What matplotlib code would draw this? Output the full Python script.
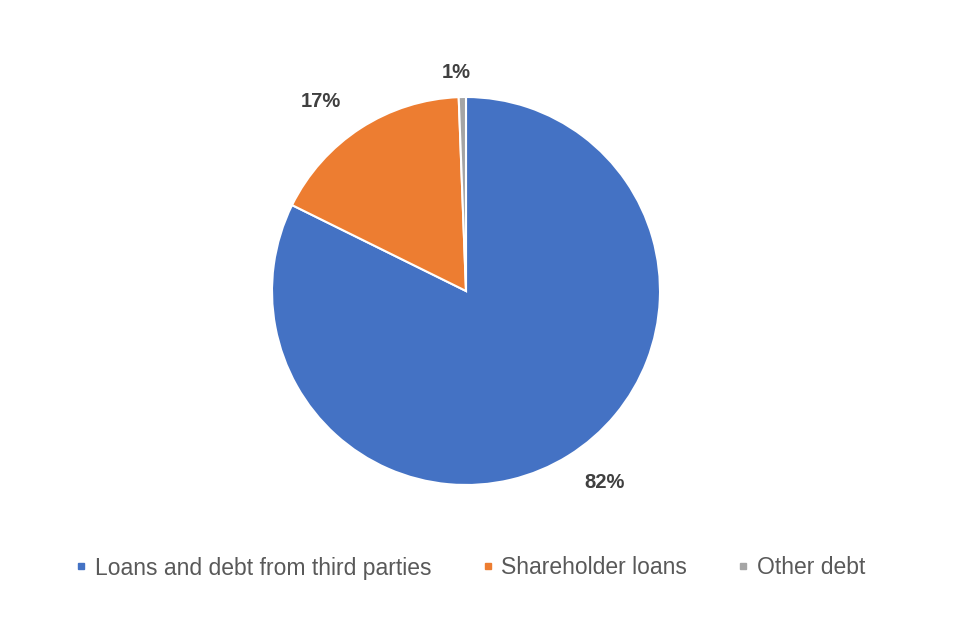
import matplotlib
matplotlib.use("Agg")
import matplotlib.pyplot as plt
from matplotlib.lines import Line2D
import numpy as np

categories = ["Loans and debt from third parties", "Shareholder loans", "Other debt"]
values = [82.3, 17.1, 0.6]
labels = ["82%", "17%", "1%"]
colors = ["#4472C4", "#ED7D31", "#A5A5A5"]

plt.rcParams['font.family'] = ['Liberation Sans', 'DejaVu Sans']

fig = plt.figure(figsize=(9.6, 6.4), dpi=100)
ax = fig.add_axes([272/960, 155/640, 388/960, 388/640])
wedges, _ = ax.pie(values, colors=colors, startangle=90, counterclock=False,
                   wedgeprops=dict(edgecolor="white", linewidth=1.5), radius=1.0)
dists = [1.22, 1.23, 1.13]
offs = [4, 4.5, 1.5]
for w, lab, d, o in zip(wedges, labels, dists, offs):
    th = np.deg2rad((w.theta1 + w.theta2) / 2 + o)
    ax.text(d * np.cos(th), d * np.sin(th), lab, ha="center", va="center",
            fontsize=14.5, fontweight="bold", color="#404040", clip_on=False)
ax.set_xlim(-1, 1); ax.set_ylim(-1, 1)
ax.set_aspect("equal")
ax.axis("off")

handles = [Line2D([0], [0], marker="s", linestyle="none", markersize=5,
                  markerfacecolor=c, markeredgecolor=c) for c in colors]
leg = fig.legend(handles, categories, loc="center", bbox_to_anchor=(0.49, 1 - 568/640),
                 ncol=3, frameon=False, fontsize=16.5, handlelength=0.5, handletextpad=0.35,
                 columnspacing=2.2, labelcolor="#595959")
fig.savefig("out.png", dpi=100, facecolor="white")
